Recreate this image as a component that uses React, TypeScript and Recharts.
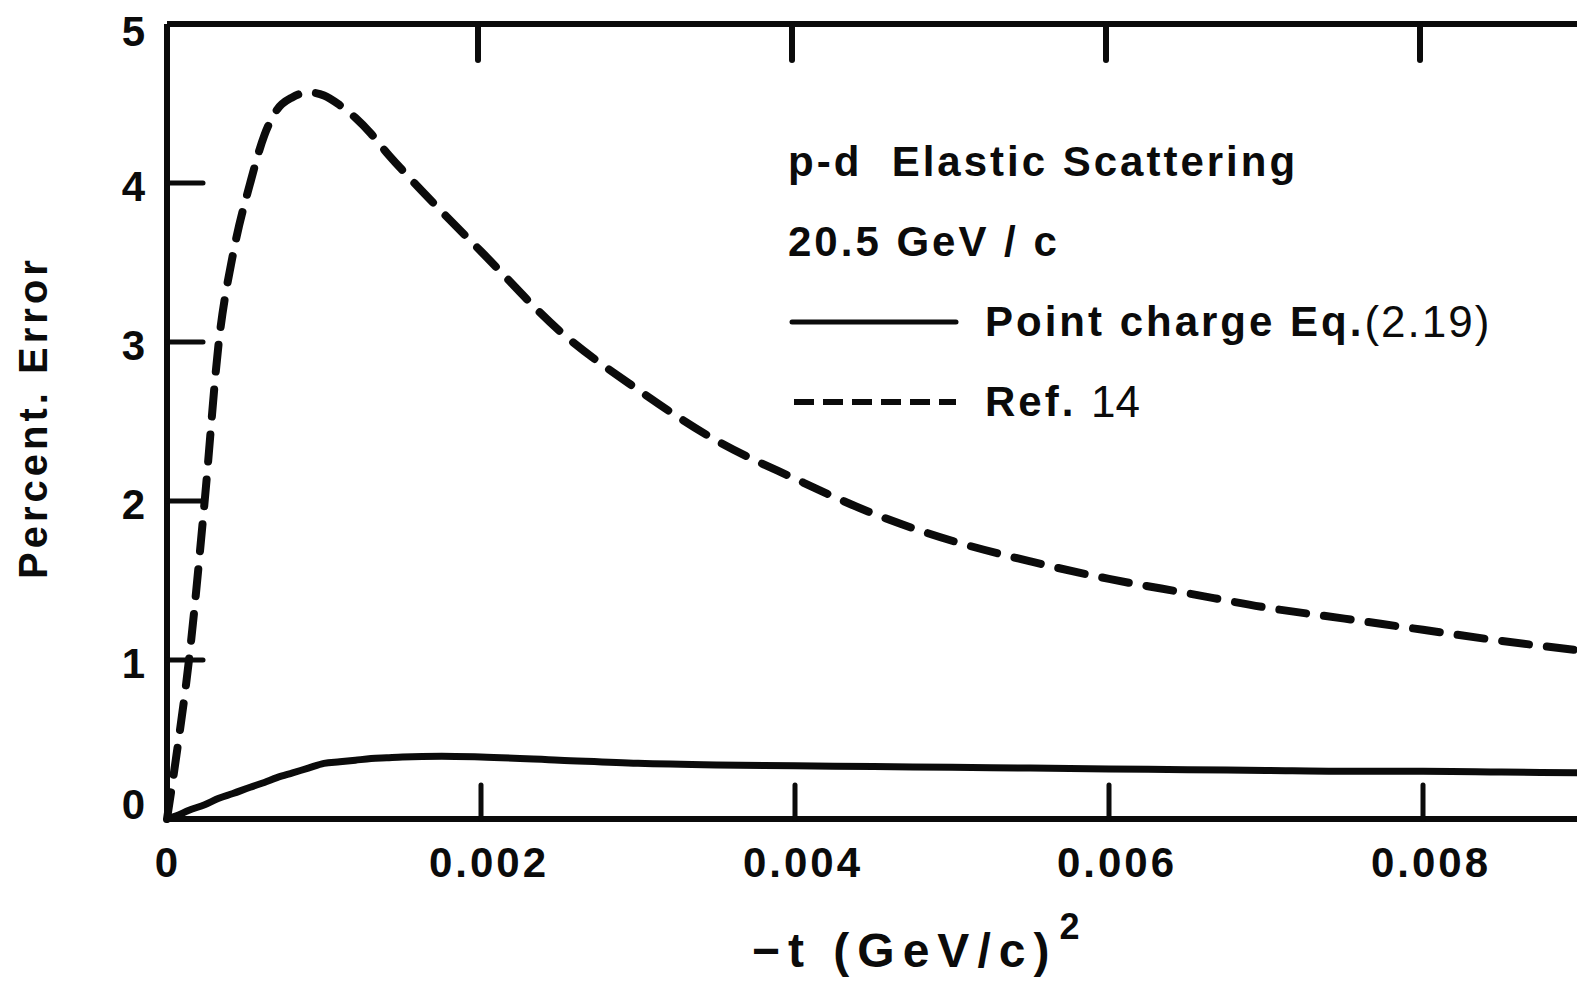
import { LineChart, Line, XAxis, YAxis, Legend } from 'recharts';

// -t values (GeV/c)^2 sampled along both curves
const T_VALUES = [
  0, 0.00006, 0.00014, 0.00024, 0.00033, 0.00042, 0.00053, 0.00062, 0.0007, 0.0008,
  0.0009, 0.001, 0.0011, 0.0012, 0.0013, 0.0014, 0.0015, 0.00175, 0.002, 0.0025,
  0.003, 0.0035, 0.004, 0.0045, 0.005, 0.0055, 0.006, 0.0065, 0.007, 0.0075,
  0.008, 0.0085, 0.009,
];

// Point charge Eq.(2.19) - solid
const POINT_CHARGE = [
  0, 0.02, 0.055, 0.09, 0.13, 0.16, 0.2, 0.23, 0.26, 0.29,
  0.32, 0.35, 0.36, 0.37, 0.38, 0.385, 0.39, 0.395, 0.39, 0.37,
  0.35, 0.34, 0.335, 0.33, 0.325, 0.32, 0.315, 0.31, 0.305, 0.3,
  0.3, 0.295, 0.29,
];

// Ref. 14 - dashed
const REF_14 = [
  0, 0.4, 1.0, 2.0, 3.0, 3.55, 4.0, 4.3, 4.46, 4.54,
  4.57, 4.55, 4.49, 4.41, 4.31, 4.19, 4.08, 3.82, 3.57, 3.07,
  2.7, 2.38, 2.14, 1.92, 1.75, 1.62, 1.51, 1.42, 1.33, 1.26,
  1.19, 1.12, 1.06,
];

const X_TICKS = [0, 0.002, 0.004, 0.006, 0.008];
const X_LABELS = ['0', '0.002', '0.004', '0.006', '0.008'];
const Y_TICKS = [0, 1, 2, 3, 4, 5];

const data = T_VALUES.map((t, i) => ({ t, pc: POINT_CHARGE[i], ref: REF_14[i] }));

const FONT = '"Liberation Sans", Arial, Helvetica, sans-serif';
const INK = '#0b0b0b';
const TICK_LEN = 36;

const LeftTick = ({ x, y, payload }: any) => {
  const v = payload.value;
  const dy = v === 0 ? -15 : v === 5 ? 7 : 3;
  return (
    <g>
      {v > 0 && v < 5 && (
        <line x1={x} y1={y} x2={x + TICK_LEN} y2={y} stroke={INK} strokeWidth={5} strokeLinecap="round" />
      )}
      <text x={x - 22} y={y + dy} textAnchor="end" dominantBaseline="central"
        fontFamily={FONT} fontWeight="bold" fontSize={42} fill={INK}>
        {v}
      </text>
    </g>
  );
};

const RightTick = ({ x, y, payload }: any) => {
  const v = payload.value;
  if (v <= 0 || v >= 5) return <g />;
  return <line x1={x - TICK_LEN - 2} y1={y} x2={x} y2={y} stroke={INK} strokeWidth={5} strokeLinecap="round" />;
};

const BottomTick = ({ x, y, payload }: any) => {
  const v = payload.value;
  const label = X_LABELS[X_TICKS.indexOf(v)] ?? String(v);
  return (
    <g>
      {v > 0 && (
        <line x1={x} y1={y} x2={x} y2={y - 34} stroke={INK} strokeWidth={5} strokeLinecap="round" />
      )}
      <text x={x + (v === 0 ? 1 : 8)} y={y + 43} textAnchor="middle" dominantBaseline="central"
        fontFamily={FONT} fontWeight="bold" fontSize={42} letterSpacing={3} fill={INK}>
        {label}
      </text>
    </g>
  );
};

const TopTick = ({ x, y, payload }: any) => {
  const v = payload.value;
  if (v <= 0) return <g />;
  return <line x1={x - 3} y1={y} x2={x - 3} y2={y + TICK_LEN} stroke={INK} strokeWidth={6} strokeLinecap="round" />;
};

const YTitle = ({ viewBox }: any) => {
  const cx = viewBox.x + 25;
  const cy = viewBox.y + viewBox.height / 2 - 4;
  return (
    <text x={cx} y={cy} transform={`rotate(-90 ${cx} ${cy})`} textAnchor="middle" dominantBaseline="central"
      fontFamily={FONT} fontWeight="bold" fontSize={40} letterSpacing={4} fill={INK}>
      Percent. Error
    </text>
  );
};

const XTitle = ({ viewBox }: any) => {
  const x = viewBox.x + 585;
  const y = viewBox.y + 148;
  return (
    <text x={x} y={y} fontFamily={FONT} fontWeight="bold" fontSize={48} letterSpacing={8} fill={INK}>
      −t (GeV/c)
      <tspan dx={2} dy={-28} fontSize={36} letterSpacing={0}>2</tspan>
    </text>
  );
};

const LegendBox = () => {
  const row: any = { height: 80, display: 'flex', alignItems: 'center', whiteSpace: 'pre' };
  return (
    <div style={{ fontFamily: FONT, fontWeight: 'bold', fontSize: 42, letterSpacing: 3, color: INK, lineHeight: '80px' }}>
      <div style={row}>p-d  Elastic Scattering</div>
      <div style={row}>20.5 GeV / c</div>
      <div style={row}>
        <svg width={197} height={20}>
          <line x1={4} y1={10} x2={168} y2={10} stroke={INK} strokeWidth={5} strokeLinecap="round" />
        </svg>
        Point charge Eq.<span style={{ fontWeight: 'normal', fontSize: 44, letterSpacing: 2 }}>(2.19)</span>
      </div>
      <div style={row}>
        <svg width={197} height={20}>
          <line x1={6} y1={10} x2={168} y2={10} stroke={INK} strokeWidth={6} strokeDasharray="20 9" />
        </svg>
        Ref. <span style={{ fontWeight: 'normal', fontSize: 44, letterSpacing: 0 }}>14</span>
      </div>
    </div>
  );
};

export default function App() {
  return (
    <LineChart width={1577} height={980} data={data} margin={{ top: 15, right: 4, bottom: 0, left: 0 }}>
      <XAxis
        dataKey="t"
        type="number"
        domain={[0, 0.009]}
        ticks={X_TICKS}
        interval={0}
        height={169}
        tickSize={0}
        tickMargin={0}
        tickLine={false}
        tick={<BottomTick />}
        axisLine={{ stroke: INK, strokeWidth: 6 }}
        label={<XTitle />}
      />
      <XAxis
        xAxisId="top"
        orientation="top"
        dataKey="t"
        type="number"
        domain={[0, 0.009]}
        ticks={X_TICKS}
        interval={0}
        height={1}
        tickSize={0}
        tickMargin={0}
        tickLine={false}
        tick={<TopTick />}
        axisLine={{ stroke: INK, strokeWidth: 6 }}
      />
      <YAxis
        type="number"
        domain={[0, 5]}
        ticks={Y_TICKS}
        interval={0}
        width={159}
        tickSize={0}
        tickMargin={0}
        tickLine={false}
        tick={<LeftTick />}
        axisLine={{ stroke: INK, strokeWidth: 6 }}
        label={<YTitle />}
      />
      <YAxis
        yAxisId="right"
        orientation="right"
        type="number"
        domain={[0, 5]}
        ticks={Y_TICKS}
        interval={0}
        width={1}
        tickSize={0}
        tickMargin={0}
        tickLine={false}
        tick={<RightTick />}
        axisLine={{ stroke: INK, strokeWidth: 6 }}
      />
      <Legend
        layout="horizontal"
        verticalAlign="middle"
        content={<LegendBox />}
        wrapperStyle={{ top: 114, left: 780, width: 780, height: 320 }}
      />
      <Line
        dataKey="pc"
        type="monotone"
        stroke={INK}
        strokeWidth={7}
        dot={false}
        activeDot={false}
        isAnimationActive={false}
      />
      <Line
        dataKey="ref"
        type="monotone"
        stroke={INK}
        strokeWidth={8}
        strokeDasharray="27 18"
        strokeLinecap="round"
        dot={false}
        activeDot={false}
        isAnimationActive={false}
      />
    </LineChart>
  );
}
